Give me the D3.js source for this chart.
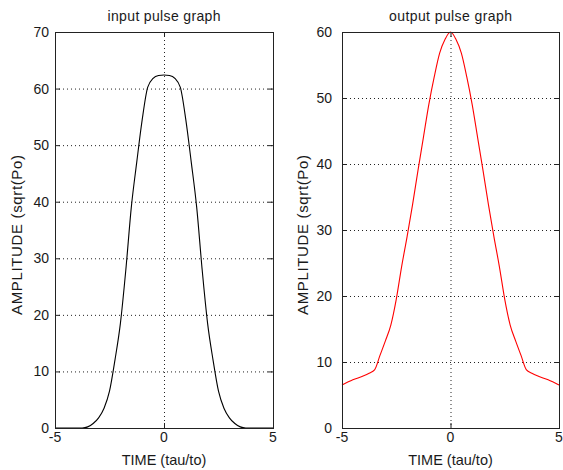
<!DOCTYPE html>
<html>
<head>
<meta charset="utf-8">
<script src="https://cdn.jsdelivr.net/npm/d3@7"></script>
<style>
  body { margin: 0; background: #fff; }
  text { font-family: "Liberation Sans", Arial, sans-serif; fill: #1a1a1a; }
</style>
</head>
<body>
<script>
// time samples (tau/to)
var timeSteps = [-5, -4.5, -4, -3.75, -3.5, -3.25, -3, -2.75, -2.5, -2.25, -2, -1.75, -1.5, -1.25, -1, -0.75, -0.5, -0.25, 0,
                 0.25, 0.5, 0.75, 1, 1.25, 1.5, 1.75, 2, 2.25, 2.5, 2.75, 3, 3.25, 3.5, 3.75, 4, 4.5, 5];

// amplitudes
var inputPulse = [0, 0, 0, 0, 0.2, 0.8, 1.8, 3.5, 6.5, 12, 18.5, 28, 39, 47, 54.5, 60.2, 61.8, 62.3, 62.4,
                  62.3, 61.8, 60.2, 54.5, 47, 39, 28, 18.5, 12, 6.5, 3.5, 1.8, 0.8, 0.2, 0, 0, 0, 0];
var outputPulse = [6.5, 7.3, 7.9, 8.3, 8.8, 11, 13.2, 15.6, 19.5, 24.5, 29, 33.8, 39, 44, 49, 53.2, 56.8, 58.9, 60,
                   58.9, 56.8, 53.2, 49, 44, 39, 33.8, 29, 24.5, 19.5, 15.6, 13.2, 11, 8.8, 8.3, 7.9, 7.3, 6.5];

var xTicks = [-5, 0, 5];
var inputYTicks = [0, 10, 20, 30, 40, 50, 60, 70];
var outputYTicks = [0, 10, 20, 30, 40, 50, 60];

var w = 563, h = 470;
var svg = d3.select("body").append("svg").attr("width", w).attr("height", h);

function drawPanel(p) {
    var x = d3.scaleLinear().domain([-5, 5]).range([p.left, p.right]);
    var y = d3.scaleLinear().domain([0, p.ymax]).range([p.bottom, p.top]);
    var g = svg.append("g");

    // dotted grid
    g.selectAll(".hgrid").data(p.yTicks.slice(1, -1)).enter().append("line")
        .attr("x1", p.left).attr("x2", p.right)
        .attr("y1", function(d) { return y(d) + 0.5; })
        .attr("y2", function(d) { return y(d) + 0.5; })
        .attr("stroke", "#222").attr("stroke-width", 1).attr("stroke-dasharray", "1,3");
    g.selectAll(".vgrid").data(xTicks.slice(1, -1)).enter().append("line")
        .attr("x1", function(d) { return x(d) + 0.5; })
        .attr("x2", function(d) { return x(d) + 0.5; })
        .attr("y1", p.top).attr("y2", p.bottom)
        .attr("stroke", "#222").attr("stroke-width", 1).attr("stroke-dasharray", "1,3");

    // the pulse
    var line = d3.line()
        .x(function(d, i) { return x(timeSteps[i]); })
        .y(function(d) { return y(d); })
        .curve(d3.curveMonotoneX);
    g.append("path").datum(p.values)
        .attr("d", line)
        .attr("fill", "none")
        .attr("stroke", p.color)
        .attr("stroke-width", 1.1);

    // box
    g.append("rect")
        .attr("x", p.left + 0.5).attr("y", p.top + 0.5)
        .attr("width", p.right - p.left).attr("height", p.bottom - p.top)
        .attr("fill", "none").attr("stroke", "#222");

    // inward ticks, all four sides
    var tl = 5;
    p.yTicks.forEach(function(d) {
        var yy = y(d) + 0.5;
        g.append("line").attr("x1", p.left).attr("x2", p.left + tl).attr("y1", yy).attr("y2", yy).attr("stroke", "#222");
        g.append("line").attr("x1", p.right - tl).attr("x2", p.right).attr("y1", yy).attr("y2", yy).attr("stroke", "#222");
    });
    xTicks.forEach(function(d) {
        var xx = x(d) + 0.5;
        g.append("line").attr("x1", xx).attr("x2", xx).attr("y1", p.bottom).attr("y2", p.bottom - tl).attr("stroke", "#222");
        g.append("line").attr("x1", xx).attr("x2", xx).attr("y1", p.top).attr("y2", p.top + tl).attr("stroke", "#222");
    });

    // tick labels
    g.selectAll(".ylab").data(p.yTicks).enter().append("text")
        .attr("x", p.left - p.labelGap)
        .attr("y", function(d) { return y(d); })
        .attr("dy", "0.36em")
        .attr("text-anchor", "end")
        .style("font-size", "14px")
        .text(function(d) { return d; });
    g.selectAll(".xlab").data(xTicks).enter().append("text")
        .attr("x", function(d) { return x(d); })
        .attr("y", p.bottom + 14)
        .attr("text-anchor", "middle")
        .style("font-size", "14px")
        .text(function(d) { return d; });

    // titles
    var cx = (p.left + p.right) / 2;
    g.append("text").attr("x", cx).attr("y", 21)
        .attr("text-anchor", "middle").style("font-size", "14px")
        .attr("textLength", p.titleLen).attr("lengthAdjust", "spacing")
        .text(p.title);
    g.append("text").attr("x", cx).attr("y", 465)
        .attr("text-anchor", "middle").style("font-size", "14.5px")
        .text("TIME (tau/to)");
    g.append("text")
        .attr("transform", "translate(" + p.ylabelX + "," + ((p.top + p.bottom) / 2 + 5) + ") rotate(-90)")
        .attr("text-anchor", "middle").style("font-size", "15px")
        .attr("textLength", 160).attr("lengthAdjust", "spacing")
        .text("AMPLITUDE (sqrt(Po)");
}

drawPanel({ left: 55, right: 273, top: 32, bottom: 428, ymax: 70, yTicks: inputYTicks,
            values: inputPulse, color: "#000",
            title: "input pulse graph", titleLen: 113, ylabelX: 22, labelGap: 6 });
drawPanel({ left: 342, right: 559, top: 32, bottom: 428, ymax: 60, yTicks: outputYTicks,
            values: outputPulse, color: "#ff0000",
            title: "output pulse graph", titleLen: 123, ylabelX: 308, labelGap: 10 });
</script>
</body>
</html>
